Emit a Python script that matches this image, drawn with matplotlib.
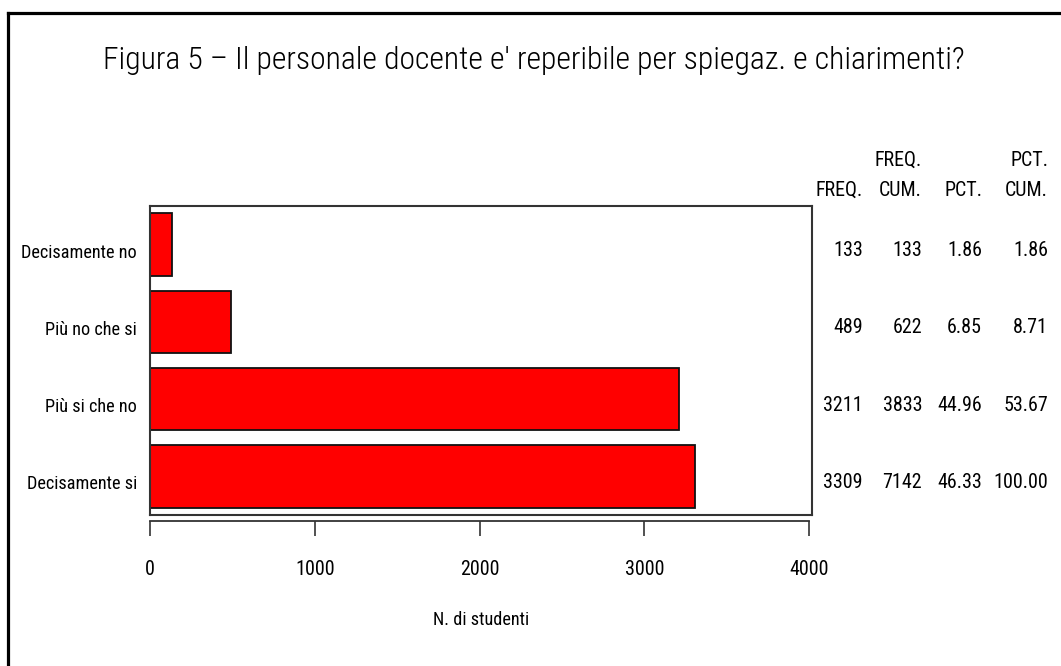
import numpy as np
import matplotlib
matplotlib.use("Agg")
import matplotlib.pyplot as plt
import matplotlib.transforms as mtransforms
from matplotlib.lines import Line2D
from matplotlib import font_manager

# ---- data ----
title = "Figura 5 \u2013 Il personale docente e' reperibile per spiegaz. e chiarimenti?"
categories = ["Decisamente no", "Più no che si", "Più si che no", "Decisamente si"]
freq = [133, 489, 3211, 3309]
cum_freq = [133, 622, 3833, 7142]
pct = [1.86, 6.85, 44.96, 46.33]
cum_pct = [1.86, 8.71, 53.67, 100.00]
x_ticks = [0, 1000, 2000, 3000, 4000]
x_label = "N. di studenti"
header_top = ["", "FREQ.", "", "PCT."]
header_bottom = ["FREQ.", "CUM.", "PCT.", "CUM."]

# ---- font choice: prefer a narrow family if installed ----
names = {f.name for f in font_manager.fontManager.ttflist}
has_cond = any(f.name == 'DejaVu Sans' and f.stretch in ('condensed', 'semi-condensed')
               for f in font_manager.fontManager.ttflist)
family = 'DejaVu Sans'
stretch = 'normal'
for cand in ['Liberation Sans Narrow', 'Roboto Condensed', 'Open Sans Condensed']:
    if cand in names:
        family = cand
        break
else:
    if has_cond:
        stretch = 'condensed'
plt.rcParams['font.family'] = [family, 'DejaVu Sans']
plt.rcParams['font.stretch'] = stretch

W, H = 1061, 666
fig = plt.figure(figsize=(W / 100, H / 100), dpi=100)
fig.patch.set_facecolor('white')
renderer = fig.canvas.get_renderer()


def fit_size(s, target_px, **kw):
    t = fig.text(0, 0, s, fontsize=10, **kw)
    w = t.get_window_extent(renderer).width
    t.remove()
    return 10 * target_px / w


title_fs = fit_size(title, 866, fontweight='light')
label_fs = min(fit_size("Decisamente no", 115), 14)
table_fs = min(fit_size("100.00", 54), 14.5)

box_l, box_r, box_t, box_b = 150, 812, 206, 515
pos = [box_l / W, 1 - box_b / H, (box_r - box_l) / W, (box_b - box_t) / H]
ax = fig.add_axes(pos)

y = np.arange(len(categories))
ax.barh(y, freq, height=0.81, color='#ff0000', edgecolor='#111111', linewidth=1.3, zorder=2)
ax.set_ylim(len(categories) - 0.5, -0.5)
ax.set_xlim(0, 4000 * (box_r - box_l) / (809 - box_l))

for s in ax.spines.values():
    s.set_color('#333333')
    s.set_linewidth(1.5)
ax.tick_params(axis='x', bottom=False, labelbottom=False)
ax.set_yticks(y, labels=categories)
ax.tick_params(axis='y', length=0, pad=9.5, labelsize=label_fs)
offset = mtransforms.ScaledTranslation(0, -6 / 100, fig.dpi_scale_trans)
for lbl in ax.get_yticklabels():
    lbl.set_transform(lbl.get_transform() + offset)

# separate x axis line below the box
ax2 = fig.add_axes(pos, sharex=ax)
ax2.patch.set_visible(False)
for k in ['top', 'left', 'right']:
    ax2.spines[k].set_visible(False)
ax2.spines['bottom'].set_position(('outward', 4.3))
ax2.spines['bottom'].set_bounds(0, 4000)
ax2.spines['bottom'].set_color('#333333')
ax2.spines['bottom'].set_linewidth(1.3)
ax2.set_yticks([])
ax2.set_xticks(x_ticks, labels=[str(v) for v in x_ticks])
ax2.tick_params(axis='x', length=10.8, width=1.2, color='#333333', pad=17, labelsize=table_fs)
ax2.set_xlabel(x_label, fontsize=label_fs, labelpad=23)

# table on the right
col_x = [863, 922, 982, 1048]
tr = mtransforms.blended_transform_factory(fig.transFigure, ax.transData) + offset
rows = [freq, cum_freq, [f"{v:.2f}" for v in pct], [f"{v:.2f}" for v in cum_pct]]
for j, cx in enumerate(col_x):
    fig.text(cx / W, 1 - 160 / H, header_top[j], ha='right', va='center', fontsize=table_fs)
    fig.text(cx / W, 1 - 190 / H, header_bottom[j], ha='right', va='center', fontsize=table_fs)
    for i in range(len(categories)):
        ax.text(cx / W, y[i], str(rows[j][i]), transform=tr, ha='right', va='center',
                fontsize=table_fs, clip_on=False)

# title
fig.text(534 / W, 1 - 69 / H, title, ha='center', va='baseline', fontsize=title_fs,
         fontweight='light')

# outer frame (left and top)
fig.add_artist(Line2D([8 / W, 8 / W], [0, 1 - 13 / H], transform=fig.transFigure,
                      color='black', lw=2.3, solid_capstyle='projecting'))
fig.add_artist(Line2D([8 / W, 1], [1 - 13 / H, 1 - 13 / H], transform=fig.transFigure,
                      color='black', lw=2.3, solid_capstyle='projecting'))

fig.savefig('out.png', dpi=100, facecolor='white')
